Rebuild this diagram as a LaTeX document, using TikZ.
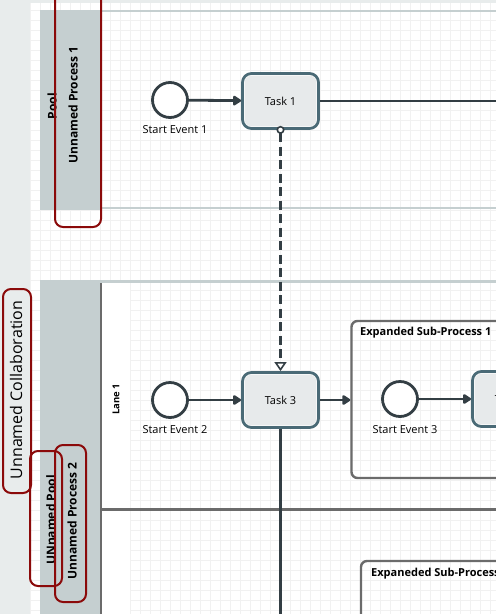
\documentclass[tikz,border=0pt]{standalone}
\usepackage{fontspec}
\setmainfont{Open Sans}
\definecolor{mPane}{HTML}{E8ECEC}
\definecolor{mGrid}{HTML}{F1F1F1}
\definecolor{mPool}{HTML}{C5CFD0}
\definecolor{mLane}{HTML}{6B6B6B}
\definecolor{mFlow}{HTML}{333E44}
\definecolor{mRim}{HTML}{4A6A76}
\definecolor{mTask}{HTML}{E7EAEB}
\definecolor{mMark}{HTML}{8B0A0A}
\usepackage{tikz}
\usetikzlibrary{arrows.meta, positioning}

\tikzset{
  event/.style={circle, draw=mFlow, line width=2.8pt, fill=white,
    minimum size=35pt, inner sep=0pt},
  evlabel/.style={font=\fontsize{11}{13}\selectfont, inner sep=0pt},
  task/.style={rectangle, rounded corners=9pt, draw=mRim, line width=2.8pt,
    fill=white, minimum width=76pt, minimum height=55pt,
    font=\fontsize{11}{13}\selectfont,
    path picture={\fill[mTask, rounded corners=7pt]
      ([shift={(2.2pt,2.2pt)}]path picture bounding box.south west) rectangle
      ([shift={(-2.2pt,-2.2pt)}]path picture bounding box.north east);}},
  subproc/.style={rectangle, rounded corners=6pt, draw=mLane, line width=2.4pt},
  subtitle/.style={anchor=west, inner sep=0pt, font=\bfseries\fontsize{11}{13}\selectfont},
  headtext/.style={rotate=90, inner sep=0pt, font=\bfseries\fontsize{12}{14}\selectfont},
  flow/.style={draw=mFlow, line width=2.8pt, -{Triangle[length=9pt, width=11pt, round]}},
  msgflow/.style={draw=mFlow, line width=2.6pt, dash pattern=on 9pt off 4.5pt,
    {Circle[length=8pt, fill=white, line width=1.6pt]}-{Triangle[length=9pt, width=12pt, fill=white, line width=1.6pt]},
    shorten <=-4pt},
  poolline/.style={draw=mPool, line width=2.8pt},
  laneline/.style={draw=mLane, line width=2.4pt},
  markbox/.style={draw=mMark, line width=2pt, rounded corners=8pt}
}

\begin{document}
\begin{tikzpicture}[x=1pt, y=-1pt]
\clip (0,0) rectangle (496,614);
\fill[mPane] (0,0) rectangle (496,614);
\fill[white] (30,3) rectangle (496,614);
\draw[mGrid, line width=0.8pt] (30,3) grid[step=10pt] (496,614);

% pools and lanes
\fill[mPool] (40,10) rectangle (100,210);
\fill[mPool] (40,280) rectangle (100,614);
\fill[white] (102,283) rectangle (130,614);
\draw[poolline] (100,11) -- (496,11) (100,208) -- (496,208) (100,281.5) -- (496,281.5);
\draw[laneline] (101,283) -- (101,614) (102,509.5) -- (496,509.5);

\node[headtext] (poolname) at (52,106) {Pool};
\node[headtext] (proc1) at (73,105) {Unnamed Process 1};
\node[headtext] (pool2name) at (51,520) {UNnamed Pool};
\node[headtext] (proc2) at (72,521) {Unnamed Process 2};
\node[rotate=90, inner sep=0pt, font=\fontsize{16}{18}\selectfont] (collab) at (16,390) {Unnamed Collaboration};
\node[rotate=90, inner sep=0pt, font=\bfseries\fontsize{9.5}{11}\selectfont] (lane1) at (116,399) {Lane 1};

% sub-processes
\node[subproc, minimum width=169pt, minimum height=157pt] (sub1) at (436,399.5) {};
\node[subtitle] (sub1t) at (360,333) {Expanded Sub-Process 1};
\node[subproc, minimum width=180pt, minimum height=80pt] (sub2) at (451,601) {};
\node[subtitle] (sub2t) at (371,574) {Expaneded Sub-Process 2};

% process 1
\node[event] (se1) at (170,100) {};
\node[evlabel, below=6pt of se1, xshift=5pt] (se1l) {Start Event 1};
\node[task] (t1) at (280.5,101) {Task 1};
\coordinate (t1out) at (520,101);

% process 2
\node[event] (se2) at (170,400) {};
\node[evlabel, below=6pt of se2, xshift=5pt] (se2l) {Start Event 2};
\node[task] (t3) at (280.5,400) {Task 3};
\coordinate (t3out) at (280.5,640);
\node[event] (se3) at (400,399) {};
\node[evlabel, below=7pt of se3, xshift=5pt] (se3l) {Start Event 3};
\node[task] (t4) at (510.5,399) {Task 4};

\draw[flow] (se1) -- (t1);
\draw[mFlow, line width=2.8pt] (t1) -- (t1out);
\draw[msgflow] (t1.south) -- (t3.north);
\draw[flow] (se2) -- (t3);
\draw[flow] (t3) -- (t3 -| sub1.west);
\draw[flow] (se3) -- (se3 -| t4.west);
\draw[mFlow, line width=2.8pt] (t3) -- (t3out);

% highlight marks
\draw[markbox] (55,-10) rectangle (101,227);
\draw[markbox] (3,289) rectangle (31,493);
\draw[markbox] (30,451) rectangle (62,586);
\draw[markbox] (55,445) rectangle (86,602);
\end{tikzpicture}
\end{document}
